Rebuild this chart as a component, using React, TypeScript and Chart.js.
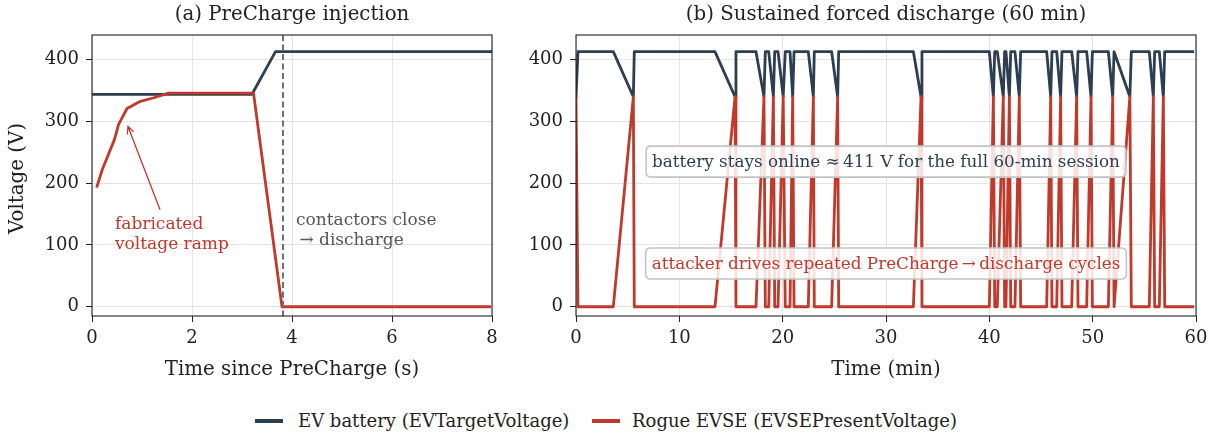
import React, { useEffect, useRef } from 'react';
import { Chart, registerables } from 'chart.js';
Chart.register(...registerables);

const FONT = "'DejaVu Serif', serif";
const BLUE = '#2c3e50';
const RED = '#c0392b';
const GRID = '#e3e3e3';
const INK = '#222222';

// ---------- Panel (a): PreCharge injection (seconds) ----------
const precharge_time_blue = [0, 3.2, 3.67, 8.0];
const precharge_ev_target = [344, 344, 413, 413];
const precharge_time_red = [0.1, 0.21, 0.45, 0.53, 0.7, 0.95, 1.22, 1.53, 3.23, 3.8, 7.95];
const precharge_evse_present = [195, 223, 271, 295, 321, 332, 338, 346, 346, 0, 0];
const contactor_close_time = 3.82;
const precharge_x_ticks = [0, 2, 4, 6, 8];

// ---------- Panel (b): sustained forced discharge (minutes) ----------
const session_time = [
  0, 0.19, 3.61, 5.55, 5.64, 13.45, 15.39, 15.48, 17.42, 18.19, 18.32,
  18.65, 19.1, 19.23, 19.55, 20.05, 20.25, 20.71, 20.97, 21.1,
  22.48, 22.97, 23.06, 24.74, 25.32, 25.42, 32.65, 33.39, 33.48,
  40.0, 40.39, 40.52, 40.77, 41.35, 41.48, 41.61, 41.94, 42.07,
  42.48, 42.9, 43.03, 45.55, 45.94, 46.06, 46.52, 46.9, 47.03,
  47.97, 48.45, 48.58, 49.42, 49.84, 49.97, 51.52, 51.94, 52.07,
  53.6, 53.74, 55.48, 55.87, 56.0, 56.45, 56.84, 56.97, 59.68,
];
const session_ev_target = [
  340, 413, 413, 340, 413, 413, 340, 413, 413, 340, 413,
  413, 340, 413, 413, 340, 413, 413, 340, 413,
  413, 340, 413, 413, 340, 413, 413, 340, 413,
  413, 340, 413, 413, 340, 413, 413, 340, 413,
  413, 340, 413, 413, 340, 413, 413, 340, 413,
  413, 340, 413, 413, 340, 413, 413, 340, 413,
  340, 413, 413, 340, 413, 413, 340, 413, 413,
];
const session_evse_present = [
  340, 0, 0, 340, 0, 0, 340, 0, 0, 340, 0,
  0, 340, 0, 0, 340, 0, 0, 340, 0,
  0, 340, 0, 0, 340, 0, 0, 340, 0,
  0, 340, 0, 0, 340, 0, 0, 340, 0,
  0, 340, 0, 0, 340, 0, 0, 340, 0,
  0, 340, 0, 0, 340, 0, 0, 340, 0,
  340, 0, 0, 340, 0, 0, 340, 0, 0,
];
const session_x_ticks = [0, 10, 20, 30, 40, 50, 60];
const voltage_ticks = [0, 100, 200, 300, 400];

const SERIES_LABELS = ['EV battery (EVTargetVoltage)', 'Rogue EVSE (EVSEPresentVoltage)'];

const TITLE_SIZE = 19.8;
const TICK_SIZE = 18;
const NOTE_SIZE = 17;
const BOX_SIZE = 16.8;
const LEGEND_SIZE = 18;

function toXY(xs: number[], ys: number[]) {
  return xs.map((x, i) => ({ x, y: ys[i] }));
}

function roundRect(ctx: CanvasRenderingContext2D, x: number, y: number, w: number, h: number, r: number) {
  ctx.beginPath();
  ctx.moveTo(x + r, y);
  ctx.lineTo(x + w - r, y);
  ctx.quadraticCurveTo(x + w, y, x + w, y + r);
  ctx.lineTo(x + w, y + h - r);
  ctx.quadraticCurveTo(x + w, y + h, x + w - r, y + h);
  ctx.lineTo(x + r, y + h);
  ctx.quadraticCurveTo(x, y + h, x, y + h - r);
  ctx.lineTo(x, y + r);
  ctx.quadraticCurveTo(x, y, x + r, y);
  ctx.closePath();
}

type PanelSpec = {
  title: string;
  xTitle: string;
  yTitle?: string;
  yTitleX?: number;
  xMin: number;
  xMax: number;
  xTicks: number[];
  blue: { x: number; y: number }[];
  red: { x: number; y: number }[];
  yAxisWidth: number;
  padRight: number;
  decorate: (ctx: CanvasRenderingContext2D, chart: any) => void;
};

function makeDecor(spec: PanelSpec) {
  return {
    id: 'panelDecor',
    afterDatasetsDraw(chart: any) {
      const ctx = chart.ctx as CanvasRenderingContext2D;
      ctx.save();
      spec.decorate(ctx, chart);
      ctx.restore();
    },
    afterDraw(chart: any) {
      const ctx = chart.ctx as CanvasRenderingContext2D;
      const a = chart.chartArea;
      ctx.save();
      ctx.strokeStyle = INK;
      ctx.lineWidth = 1.1;
      ctx.strokeRect(a.left, a.top, a.right - a.left, a.bottom - a.top);
      ctx.fillStyle = INK;
      ctx.textAlign = 'center';
      ctx.textBaseline = 'middle';
      ctx.font = `${TITLE_SIZE}px ${FONT}`;
      ctx.fillText(spec.title, (a.left + a.right) / 2, 15);
      ctx.fillText(spec.xTitle, (a.left + a.right) / 2, 370);
      if (spec.yTitle) {
        ctx.translate(spec.yTitleX || 18, (a.top + a.bottom) / 2 + 3);
        ctx.rotate(-Math.PI / 2);
        ctx.fillText(spec.yTitle, 0, 0);
      }
      ctx.restore();
    },
  };
}

function Panel({ spec, left, width }: { spec: PanelSpec; left: number; width: number }) {
  const ref = useRef<HTMLCanvasElement>(null);
  useEffect(() => {
    if (!ref.current) return;
    const tickFont = { family: FONT, size: TICK_SIZE };
    const chart = new Chart(ref.current, {
      type: 'line',
      data: {
        datasets: [
          {
            label: SERIES_LABELS[0],
            data: spec.blue,
            borderColor: BLUE,
            backgroundColor: BLUE,
            borderWidth: 2.8,
            pointRadius: 0,
            tension: 0,
            borderJoinStyle: 'round',
            borderCapStyle: 'square',
            order: 2,
          },
          {
            label: SERIES_LABELS[1],
            data: spec.red,
            borderColor: RED,
            backgroundColor: RED,
            borderWidth: 2.8,
            pointRadius: 0,
            tension: 0,
            borderJoinStyle: 'round',
            borderCapStyle: 'square',
            order: 1,
          },
        ],
      },
      options: {
        animation: false,
        responsive: false,
        devicePixelRatio: 1,
        events: [],
        layout: { padding: { left: 0, top: 35, right: spec.padRight, bottom: 400 - 316 - 40 } },
        plugins: { legend: { display: false }, tooltip: { enabled: false }, title: { display: false } },
        scales: {
          x: {
            type: 'linear',
            min: spec.xMin,
            max: spec.xMax,
            afterBuildTicks: (s: any) => {
              s.ticks = spec.xTicks.map((v) => ({ value: v }));
            },
            afterFit: (s: any) => {
              s.height = 40;
            },
            ticks: { font: tickFont, color: INK, padding: 6, maxRotation: 0, autoSkip: false },
            grid: { color: GRID, lineWidth: 1, tickLength: 6, tickColor: INK, tickWidth: 1 },
            border: { display: false },
          },
          y: {
            type: 'linear',
            min: -15,
            max: 440,
            afterBuildTicks: (s: any) => {
              s.ticks = voltage_ticks.map((v) => ({ value: v }));
            },
            afterFit: (s: any) => {
              s.width = spec.yAxisWidth;
            },
            ticks: { font: tickFont, color: INK, padding: 7 },
            grid: { color: GRID, lineWidth: 1, tickLength: 6, tickColor: INK, tickWidth: 1 },
            border: { display: false },
          },
        },
      },
      plugins: [makeDecor(spec)],
    } as any);
    return () => chart.destroy();
  }, []);
  return (
    <canvas
      ref={ref}
      width={width}
      height={400}
      style={{ position: 'absolute', left, top: 0, width, height: 400 }}
    />
  );
}

const panelA: PanelSpec = {
  title: '(a) PreCharge injection',
  xTitle: 'Time since PreCharge (s)',
  yTitle: 'Voltage (V)',
  yTitleX: 18,
  xMin: 0,
  xMax: 8,
  xTicks: precharge_x_ticks,
  blue: toXY(precharge_time_blue, precharge_ev_target),
  red: toXY(precharge_time_red, precharge_evse_present),
  yAxisWidth: 92,
  padRight: 520 - 492,
  decorate: (ctx, chart) => {
    const xs = chart.scales.x;
    const ys = chart.scales.y;
    const a = chart.chartArea;
    // dashed contactor-close marker
    const cx = xs.getPixelForValue(contactor_close_time);
    ctx.strokeStyle = '#707070';
    ctx.lineWidth = 2;
    ctx.setLineDash([6, 3.5]);
    ctx.beginPath();
    ctx.moveTo(cx, a.top);
    ctx.lineTo(cx, a.bottom);
    ctx.stroke();
    ctx.setLineDash([]);
    // arrow
    const tx = xs.getPixelForValue(1.36);
    const ty = ys.getPixelForValue(157);
    const hx = xs.getPixelForValue(0.72);
    const hy = ys.getPixelForValue(292);
    ctx.strokeStyle = RED;
    ctx.lineWidth = 1.3;
    ctx.beginPath();
    ctx.moveTo(tx, ty);
    ctx.lineTo(hx, hy);
    const ang = Math.atan2(hy - ty, hx - tx);
    const L = 8;
    ctx.moveTo(hx - L * Math.cos(ang - 0.45), hy - L * Math.sin(ang - 0.45));
    ctx.lineTo(hx, hy);
    ctx.lineTo(hx - L * Math.cos(ang + 0.45), hy - L * Math.sin(ang + 0.45));
    ctx.stroke();
    // texts
    ctx.font = `${NOTE_SIZE}px ${FONT}`;
    ctx.textAlign = 'left';
    ctx.textBaseline = 'middle';
    ctx.fillStyle = RED;
    const lx = xs.getPixelForValue(0.46);
    ctx.fillText('fabricated', lx, ys.getPixelForValue(133));
    ctx.fillText('voltage ramp', lx, ys.getPixelForValue(101));
    ctx.fillStyle = '#555555';
    const gx = xs.getPixelForValue(4.08);
    ctx.fillText('contactors close', gx, ys.getPixelForValue(140));
    ctx.fillText('\u2009\u2192 discharge', gx, ys.getPixelForValue(107));
  },
};

function boxText(ctx: CanvasRenderingContext2D, text: string, cx: number, cy: number, color: string) {
  ctx.font = `${BOX_SIZE}px ${FONT}`;
  const w = ctx.measureText(text).width + 12;
  const h = 31;
  roundRect(ctx, cx - w / 2, cy - h / 2, w, h, 5);
  ctx.fillStyle = 'rgba(255,255,255,0.85)';
  ctx.fill();
  ctx.strokeStyle = '#c4c4c4';
  ctx.lineWidth = 1.6;
  ctx.stroke();
  ctx.fillStyle = color;
  ctx.textAlign = 'center';
  ctx.textBaseline = 'middle';
  ctx.fillText(text, cx, cy + 1);
}

const panelB: PanelSpec = {
  title: '(b) Sustained forced discharge (60 min)',
  xTitle: 'Time (min)',
  xMin: 0,
  xMax: 60,
  xTicks: session_x_ticks,
  blue: toXY(session_time, session_ev_target),
  red: toXY(session_time, session_evse_present),
  yAxisWidth: 56,
  padRight: 694 - 676,
  decorate: (ctx, chart) => {
    const xs = chart.scales.x;
    const ys = chart.scales.y;
    boxText(
      ctx,
      'battery stays online \u2248\u2009411 V for the full 60-min session',
      xs.getPixelForValue(30),
      ys.getPixelForValue(235),
      BLUE
    );
    boxText(
      ctx,
      'attacker drives repeated PreCharge\u2009\u2192\u2009discharge cycles',
      xs.getPixelForValue(30),
      ys.getPixelForValue(70),
      RED
    );
  },
};

const LEGEND_POS = [
  { swatch: 255, text: 298 },
  { swatch: 592, text: 632 },
];

export default function App() {
  return (
    <div style={{ position: 'absolute', left: 0, top: 0, width: 1214, height: 434, background: '#fff', overflow: 'hidden' }}>
      <Panel spec={panelA} left={0} width={520} />
      <Panel spec={panelB} left={520} width={694} />
      {SERIES_LABELS.map((lab, i) => (
        <React.Fragment key={lab}>
          <span
            style={{
              position: 'absolute',
              left: LEGEND_POS[i].swatch,
              top: 419,
              width: 28,
              height: 4,
              background: i === 0 ? BLUE : RED,
            }}
          />
          <span
            style={{
              position: 'absolute',
              left: LEGEND_POS[i].text,
              top: 410,
              lineHeight: '22px',
              fontFamily: FONT,
              fontSize: LEGEND_SIZE,
              color: INK,
              whiteSpace: 'nowrap',
            }}
          >
            {lab}
          </span>
        </React.Fragment>
      ))}
    </div>
  );
}
